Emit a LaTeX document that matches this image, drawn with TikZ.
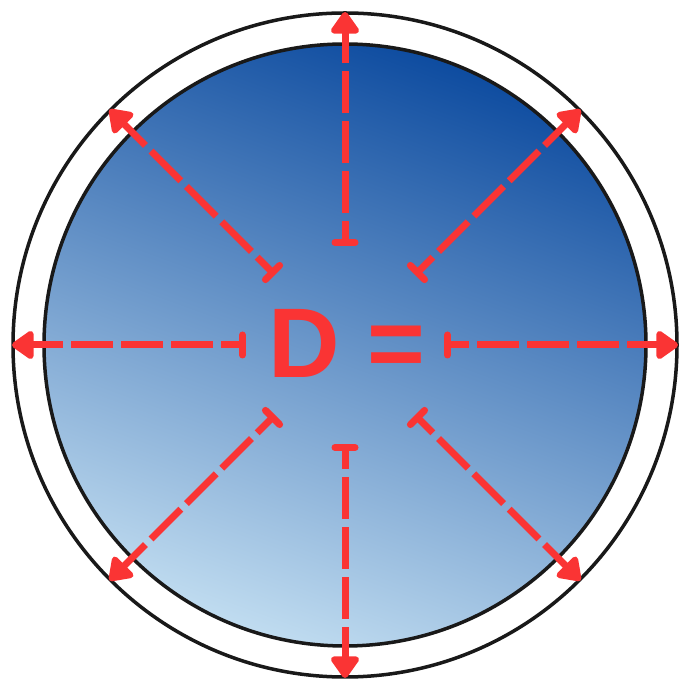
\documentclass[tikz,border=0pt]{standalone}
\usepackage{fontspec}
\setmainfont{Liberation Sans}
\usetikzlibrary{arrows.meta}
\definecolor{arrowred}{RGB}{250,52,52}
\definecolor{blueDark}{RGB}{14,76,160}
\definecolor{blueLight}{RGB}{192,220,240}
\begin{document}
\begin{tikzpicture}[x=1pt,y=1pt,
  ring/.style={draw=black!90, line width=3.5pt},
  ray/.style={draw=arrowred, line width=7pt, dash pattern=on 42pt off 8pt, dash phase=22pt,
    {Bar[width=20pt,round]}-{Triangle[length=24pt,width=32pt,round]}},
  label/.style={text=arrowred, font=\bfseries\fontsize{99}{99}\selectfont, inner sep=0pt}]
\useasboundingbox (0,0) rectangle (690,690);
\coordinate (c) at (345,345);
\draw[ring] (c) circle[radius=332];
\shade[top color=blueDark, bottom color=blueLight, shading angle=-20] (c) circle[radius=301];
\draw[ring] (c) circle[radius=301];
\foreach \a in {0,45,...,315}{
  \path (c) ++(\a:99) coordinate (s\a);
  \path (c) ++(\a:333) coordinate (e\a);
  \draw[ray] (s\a) -- (e\a);
}
\node[label] (eq) at (347,347) {D =};
\end{tikzpicture}
\end{document}
